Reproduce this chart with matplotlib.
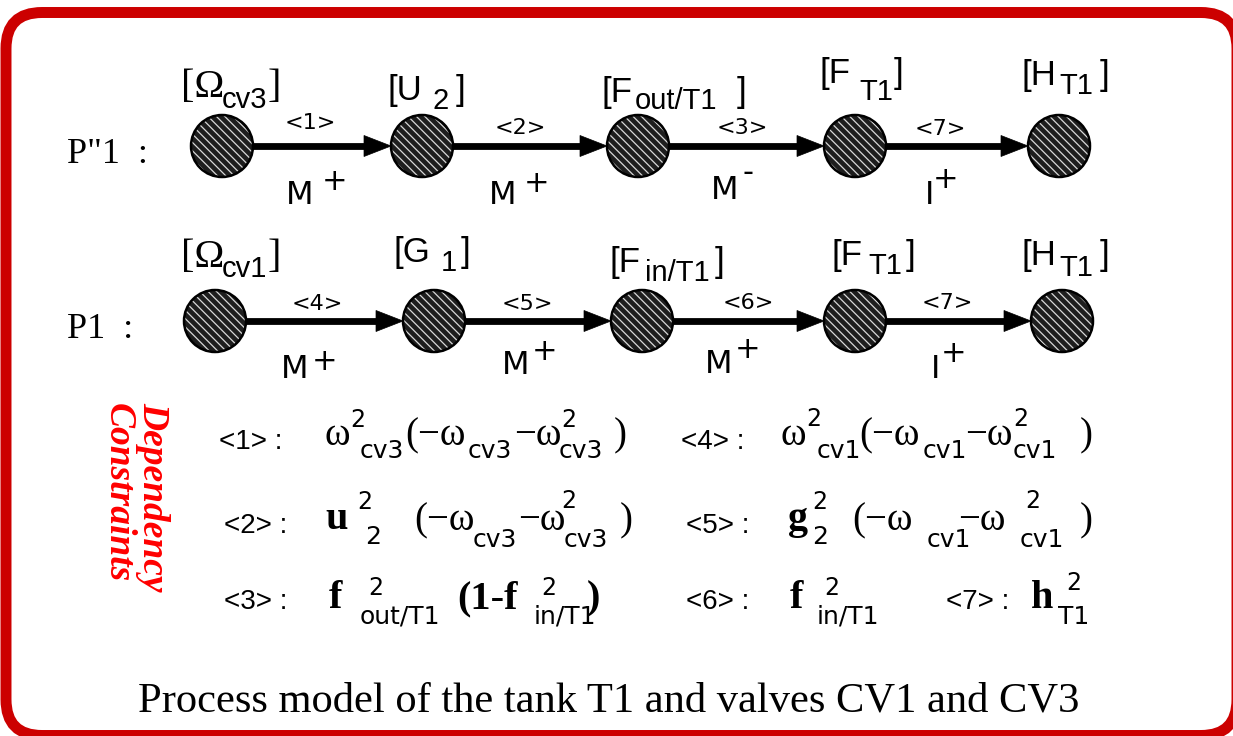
import matplotlib
matplotlib.use("Agg")
import matplotlib.pyplot as plt
from matplotlib.patches import Circle, FancyBboxPatch, Polygon

# ---- diagram content ----
row_names = ['P"1  :', 'P1  :']

# node labels: (opening part, subscript, closing bracket)
row1_nodes = [("[Ω", "cv3", "]"), ("[U", "2", "]"), ("[F", "out/T1", "]"),
              ("[F", "T1", "]"), ("[H", "T1", "]")]
row2_nodes = [("[Ω", "cv1", "]"), ("[G", "1", "]"), ("[F", "in/T1", "]"),
              ("[F", "T1", "]"), ("[H", "T1", "]")]

row1_links = ["<1>", "<2>", "<3>", "<7>"]
row2_links = ["<4>", "<5>", "<6>", "<7>"]
row1_kinds = [("M", "+"), ("M", "+"), ("M", "-"), ("I", "+")]
row2_kinds = [("M", "+"), ("M", "+"), ("M", "+"), ("I", "+")]

constraint_tags = ["<1> :", "<2> :", "<3> :", "<4> :", "<5> :", "<6> :", "<7> :"]
constraint_terms = [
    ["ω", "2", "cv3", "(−ω", "cv3", "−ω", "2", "cv3", ")"],
    ["u", "2", "2", "(−ω", "cv3", "−ω", "2", "cv3", ")"],
    ["f", "2", "out/T1", "(1-f", "2", "in/T1", ")"],
    ["ω", "2", "cv1", "(−ω", "cv1", "−ω", "2", "cv1", ")"],
    ["g", "2", "2", "(−ω", "cv1", "−ω", "2", "cv1", ")"],
    ["f", "2", "in/T1"],
    ["h", "2", "T1"],
]
side_title = ["Dependency", "Constraints"]
caption = "Process model of the tank T1 and valves CV1 and CV3"

# ---- layout (pixel coordinates) ----
W, H = 1233, 736
row_y = [146, 321]
row_name_pos = [(67, 163), (67, 338)]
node_x = [[222, 422, 638, 855, 1059], [215, 434, 642, 855, 1062]]
R = 31

# (x of "[..", y baseline, x of sub, y of sub, x of "]")
label_pos = [
    [(181, 97, 222, 108, 268), (387, 100, 433, 109, 456), (601, 102, 635, 109, 737),
     (819, 83, 859, 100, 894), (1022, 85, 1059, 94, 1100)],
    [(181, 267, 222, 277, 268), (394, 262, 441, 271, 461), (609, 272, 645, 281, 715),
     (832, 265, 868, 274, 906), (1022, 265, 1059, 276, 1100)],
]
link_pos = [[(310, 129), (520, 134), (742, 134), (940, 135)],
            [(317, 310), (527, 310), (748, 309), (947, 309)]]
# (x, y of letter, x, y of sign)
kind_pos = [[(286, 204, 335, 182), (489, 204, 537, 184), (711, 199, 748, 173), (925, 204, 946, 180)],
            [(281, 378, 325, 361), (502, 374, 545, 351), (705, 373, 748, 349), (931, 378, 954, 354)]]

tag_pos = [(219, 449), (224, 533), (224, 609), (681, 449), (686, 533), (686, 609), (946, 609)]
term_layout = [
    [("gr", 325, 445), ("sup", 350, 427), ("sub", 360, 458), ("gr", 405, 445), ("sub", 468, 458),
     ("gr", 514, 445), ("sup", 561, 427), ("sub", 559, 458), ("gr", 614, 445)],
    [("bf", 325, 529), ("sup", 357, 509), ("sub", 365, 544), ("gr", 414, 530), ("sub", 473, 547),
     ("gr", 518, 530), ("sup", 561, 508), ("sub", 564, 547), ("gr", 620, 530)],
    [("bf", 329, 608), ("sup", 368, 595), ("sub", 360, 624), ("bf", 457, 608), ("sup", 541, 595),
     ("sub", 534, 624), ("bf", 587, 608)],
    [("gr", 781, 445), ("sup", 806, 426), ("sub", 817, 458), ("gr", 859, 445), ("sub", 923, 458),
     ("gr", 965, 445), ("sup", 1013, 426), ("sub", 1013, 458), ("gr", 1080, 445)],
    [("bf", 788, 529), ("sup", 812, 509), ("sub", 812, 544), ("gr", 852, 530), ("sub", 927, 547),
     ("gr", 958, 530), ("sup", 1025, 508), ("sub", 1020, 547), ("gr", 1080, 530)],
    [("bf", 790, 608), ("sup", 824, 595), ("sub", 817, 624)],
    [("bf", 1031, 608), ("sup", 1066, 590), ("sub", 1058, 624)],
]
term_style = {
    "gr": dict(family="Liberation Serif", size=28),
    "bf": dict(family="Liberation Serif", size=29, weight="bold"),
    "sup": dict(family="DejaVu Sans", size=17),
    "sub": dict(family="DejaVu Sans", size=18),
}

SANS = "Liberation Sans"
SERIF = "Liberation Serif"
plt.rcParams["hatch.linewidth"] = 0.9

fig = plt.figure(figsize=(W / 100, H / 100), dpi=100)
ax = fig.add_axes([0, 0, 1, 1])
ax.set_xlim(0, W)
ax.set_ylim(H, 0)
ax.axis("off")

# red rounded frame
frame = FancyBboxPatch((6, 12.5), 1231, 723, boxstyle="round,pad=0,rounding_size=36",
                       facecolor="white", edgecolor="#cc0000", linewidth=7.9)
ax.add_patch(frame)


def txt(x, y, s, **kw):
    kw.setdefault("ha", "left")
    kw.setdefault("va", "baseline")
    ax.text(x, y, s, **kw)


for r in range(2):
    y = row_y[r]
    xs = node_x[r]
    txt(*row_name_pos[r], row_names[r], family=SERIF, size=26)

    # arrows between nodes
    for i in range(len(xs) - 1):
        x0 = xs[i] + R
        tip = xs[i + 1] - R
        ax.plot([x0, tip - 24], [y, y], color="black", lw=4.9, solid_capstyle="butt", zorder=2)
        ax.add_patch(Polygon([(tip, y), (tip - 27, y - 10.5), (tip - 27, y + 10.5)],
                             closed=True, facecolor="black", edgecolor="black", lw=0.5, zorder=3))

    # hatched nodes
    for x in xs:
        ax.add_patch(Circle((x, y), R, facecolor="#1e1e1e", edgecolor="none", zorder=4))
        ax.add_patch(Circle((x, y), R, facecolor="none", edgecolor="#d8d8d8", lw=0,
                            hatch="\\\\\\\\", zorder=5))
        ax.add_patch(Circle((x, y), R, facecolor="none", edgecolor="black", lw=1.8, zorder=6))

    # node labels
    nodes = row1_nodes if r == 0 else row2_nodes
    for (head, sub, close), (hx, hy, sx, sy, cx) in zip(nodes, label_pos[r]):
        if "Ω" in head:
            txt(hx, hy, head, family=SERIF, size=29)
            txt(sx, sy, sub, family=SANS, size=21)
            txt(cx, hy, close, family=SERIF, size=29)
        else:
            txt(hx, hy, head, family=SANS, size=25)
            txt(sx, sy, sub, family=SANS, size=21)
            txt(cx, hy, close, family=SANS, size=25)

    links = row1_links if r == 0 else row2_links
    for s, (lx, ly) in zip(links, link_pos[r]):
        txt(lx, ly, s, ha="center", family="DejaVu Sans", size=16)

    kinds = row1_kinds if r == 0 else row2_kinds
    for (letter, sign), (mx, my, px, py) in zip(kinds, kind_pos[r]):
        txt(mx, my, letter, family="DejaVu Sans", size=23)
        txt(px, py, sign, ha="center", va="center", family="DejaVu Sans", size=22)

# dependency constraints
for tag, (tx, ty) in zip(constraint_tags, tag_pos):
    txt(tx, ty, tag, family=SANS, size=20)
for terms, layout in zip(constraint_terms, term_layout):
    for s, (kind, x, y) in zip(terms, layout):
        txt(x, y, s, **term_style[kind])

txt(143, 402, side_title[0], rotation=270, rotation_mode="anchor", color="#ff0000",
    family=SERIF, size=27, weight="bold", style="italic")
txt(109, 403, side_title[1], rotation=270, rotation_mode="anchor", color="#ff0000",
    family=SERIF, size=27, weight="bold", style="italic")

txt(609, 711, caption, ha="center", family=SERIF, size=30.6)

fig.savefig("out.png", dpi=100)
